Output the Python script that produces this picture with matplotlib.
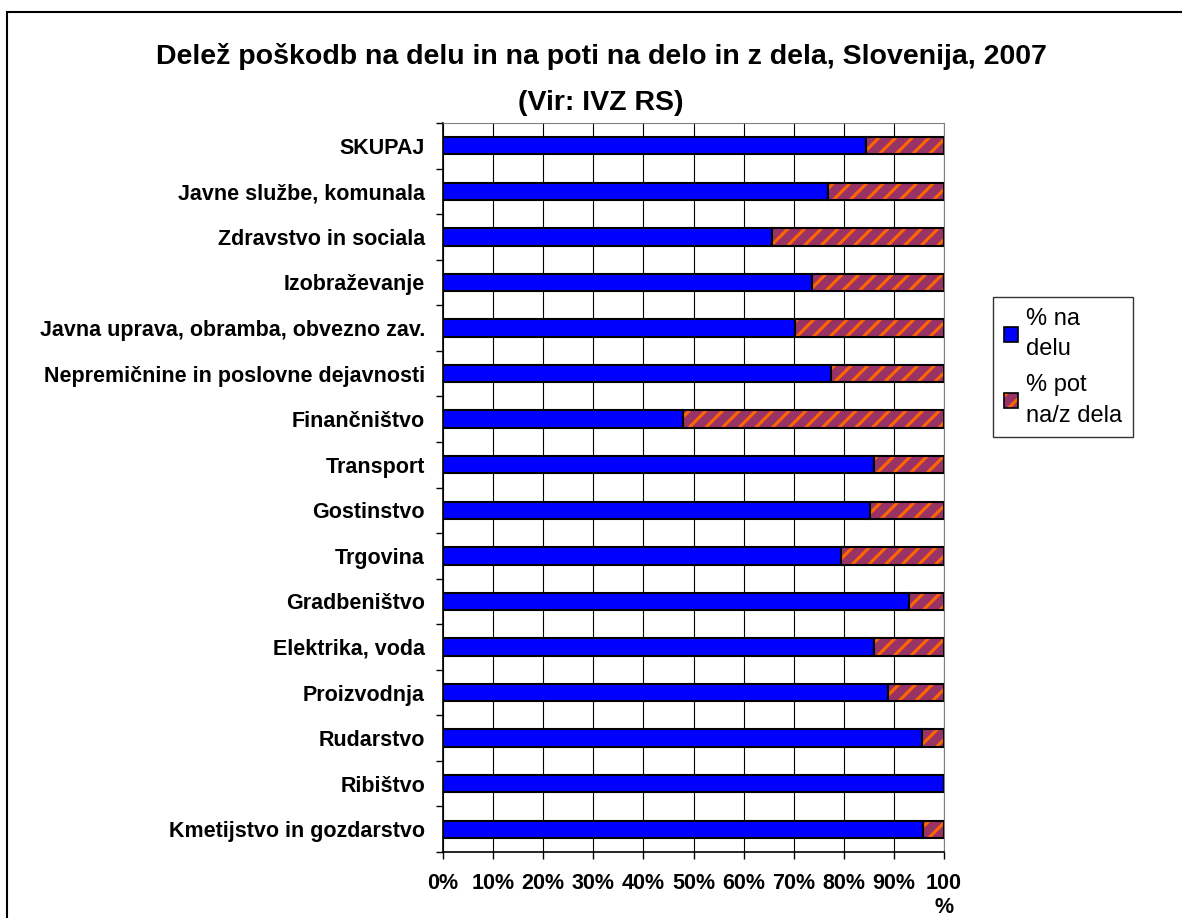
import numpy as np
import matplotlib
matplotlib.use("Agg")
import matplotlib.pyplot as plt
from matplotlib.patches import Patch, Rectangle

plt.rcParams['font.family'] = ['Liberation Sans', 'DejaVu Sans']
plt.rcParams['hatch.linewidth'] = 2.2

# podatki (od zgoraj navzdol)
kategorije = ["SKUPAJ", "Javne službe, komunala", "Zdravstvo in sociala",
              "Izobraževanje", "Javna uprava, obramba, obvezno zav.",
              "Nepremičnine in poslovne dejavnosti", "Finančništvo",
              "Transport", "Gostinstvo", "Trgovina", "Gradbeništvo",
              "Elektrika, voda", "Proizvodnja", "Rudarstvo", "Ribištvo",
              "Kmetijstvo in gozdarstvo"]
na_delu = [84.5, 76.8, 65.6, 73.7, 70.3, 77.5, 47.9,
           86.0, 85.3, 79.5, 93.0, 86.0, 88.8, 95.7, 100.0, 95.8]
pot_dela = [100 - v for v in na_delu]
x_ticks = list(range(0, 101, 10))
x_labels = ['0%', '10%', '20%', '30%', '40%', '50%', '60%', '70%', '80%', '90%', '100\n%']

modra = '#0000FF'
vijolicna = '#993366'
oranzna = '#FF6600'

fig = plt.figure(figsize=(11.82, 9.18), dpi=100)
ax = fig.add_axes([443/1182, 1 - 852/918, 501/1182, 729/918])

y = np.arange(len(kategorije))
h = 0.38

ax.barh(y, na_delu, height=h, color=modra, edgecolor='black', linewidth=1.5, zorder=3)
# šrafura: najprej vijolična z oranžnimi črtami, nato črn rob
ax.barh(y, pot_dela, left=na_delu, height=h, color=vijolicna, edgecolor=oranzna,
        hatch='//', linewidth=0, zorder=3)
ax.barh(y, pot_dela, left=na_delu, height=h, fill=False, edgecolor='black',
        linewidth=1.5, zorder=4)

ax.set_xlim(0, 100)
ax.set_ylim(len(kategorije) - 0.5, -0.5)

ax.set_xticks(x_ticks)
ax.set_xticklabels(x_labels, fontsize=15.5, fontweight='bold', linespacing=1.2)
ax.tick_params(axis='x', direction='out', length=5, width=1, pad=10)

ax.set_yticks(y)
ax.set_yticklabels(kategorije, fontsize=15.5, fontweight='bold')
ax.set_yticks(np.arange(-0.5, len(kategorije)), minor=True)
ax.tick_params(axis='y', which='major', length=0, pad=13)
ax.tick_params(axis='y', which='minor', direction='out', length=5, width=1)

ax.grid(axis='x', color='black', linewidth=0.8, zorder=0)
ax.set_axisbelow(True)

ax.spines['left'].set_color('black')
ax.spines['bottom'].set_color('black')
ax.spines['left'].set_linewidth(1.2)
ax.spines['bottom'].set_linewidth(1.2)
ax.spines['top'].set_color('#808080')
ax.spines['right'].set_color('#808080')

fig.text(601/1182, 1 - 57/918, "Delež poškodb na delu in na poti na delo in z dela, Slovenija, 2007",
         ha='center', va='center', fontsize=20.5, fontweight='bold')
fig.text(601/1182, 1 - 103/918, "(Vir: IVZ RS)",
         ha='center', va='center', fontsize=20.5, fontweight='bold')

# legenda
h1 = Patch(facecolor=modra, edgecolor='black', linewidth=1.2)
h2a = Patch(facecolor=vijolicna, edgecolor=oranzna, hatch='//', linewidth=0)
h2b = Patch(facecolor='none', edgecolor='black', linewidth=1.2)
leg = fig.legend([h1, (h2a, h2b)], ["% na\ndelu", "% pot\nna/z dela"],
                 loc='upper left', bbox_to_anchor=(993/1182, 1 - 297/918),
                 fontsize=17, frameon=True, fancybox=False, edgecolor='black',
                 handlelength=0.6, handleheight=0.6, handletextpad=0.35,
                 labelspacing=0.6, borderpad=0.45, borderaxespad=0)
leg.get_frame().set_linewidth(1.0)
for t in leg.get_texts():
    t.set_linespacing(1.5)

# okvir grafikona
fig.patches.append(Rectangle((7/1182, -0.1), 1.2, 1 - 12/918 + 0.1,
                             transform=fig.transFigure, fill=False,
                             edgecolor='black', linewidth=1.5))

fig.savefig("out.png", dpi=100)
